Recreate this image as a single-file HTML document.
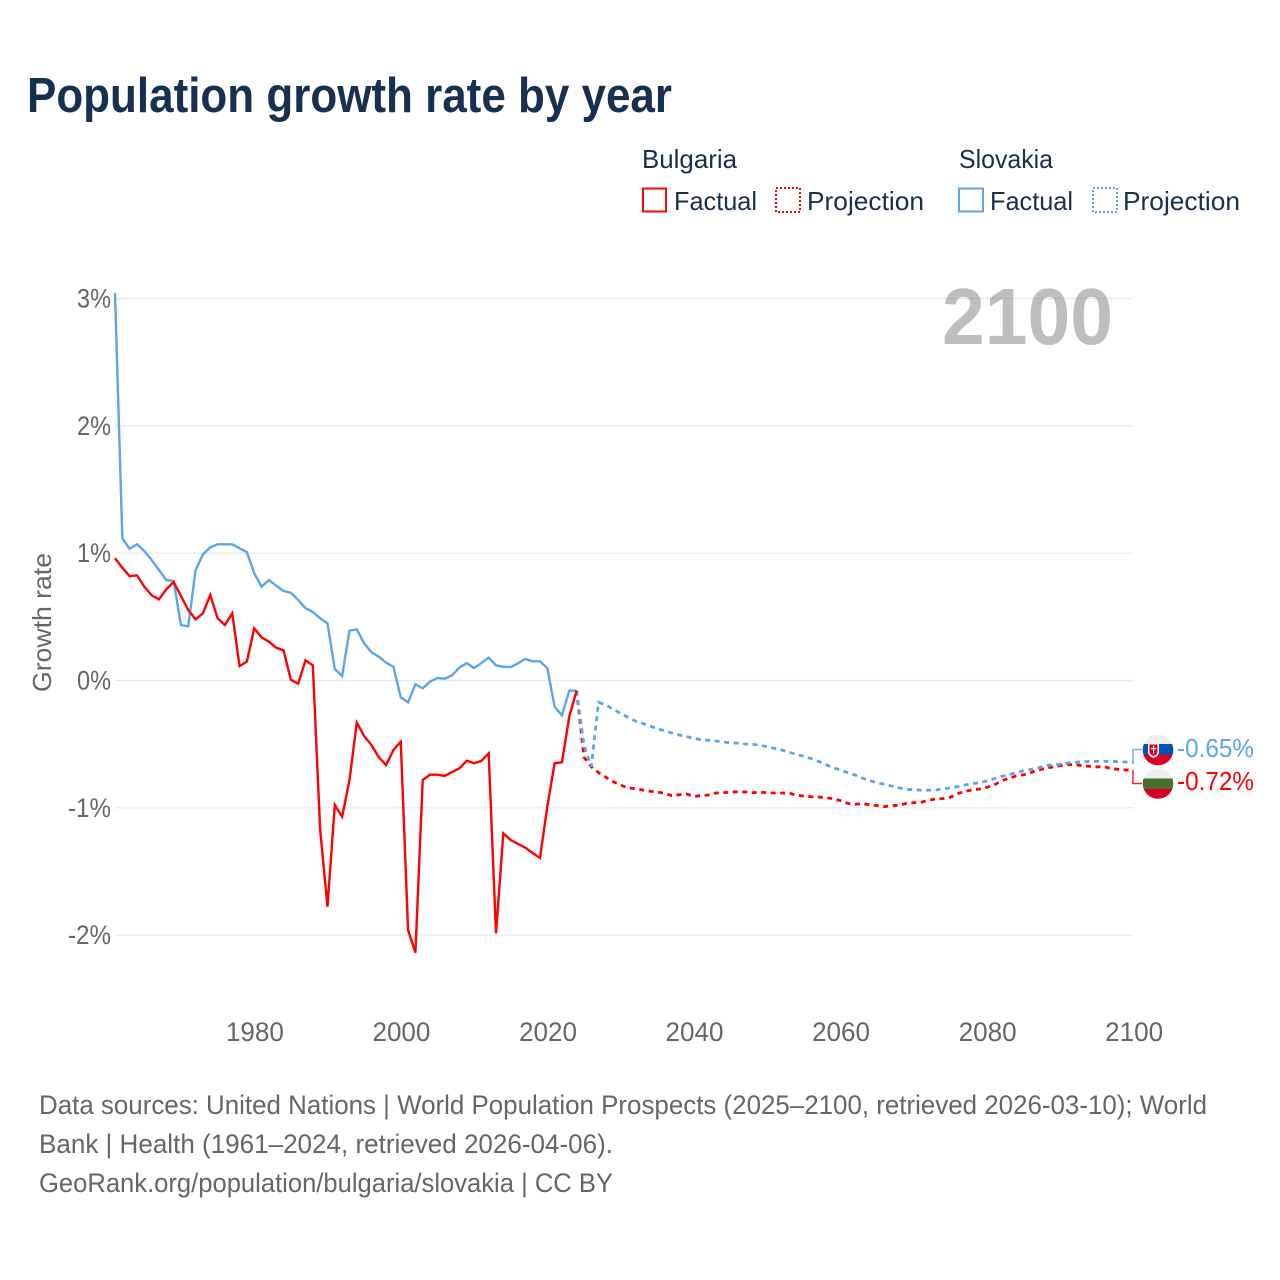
<!DOCTYPE html>
<html lang="en">
<head>
<meta charset="utf-8">
<title>Population growth rate by year</title>
<style>
html,body{margin:0;padding:0;background:#fff;}
svg{display:block;}
text{font-family:"Liberation Sans",sans-serif;}
</style>
</head>
<body>
<svg id="chart" xmlns="http://www.w3.org/2000/svg" width="1280" height="1280" viewBox="0 0 1280 1280">
  <rect x="0" y="0" width="1280" height="1280" fill="#fff"/>
  <text x="27" y="112" font-size="49" font-weight="700" fill="#17304f" textLength="645" lengthAdjust="spacingAndGlyphs">Population growth rate by year</text>

  <g font-size="26" fill="#17304f">
    <text x="642" y="168" textLength="95" lengthAdjust="spacingAndGlyphs">Bulgaria</text>
    <text x="959" y="168" textLength="94" lengthAdjust="spacingAndGlyphs">Slovakia</text>
    <g>
      <rect x="643" y="188.5" width="23" height="23" fill="none" stroke="#ff0000" stroke-width="2"/>
      <text x="674" y="210" textLength="83" lengthAdjust="spacingAndGlyphs">Factual</text>
    </g>
    <g>
      <rect x="776" y="188" width="24" height="24" fill="none" stroke="#ff0000" stroke-width="2" stroke-dasharray="2 2"/>
      <text x="807" y="210" textLength="117" lengthAdjust="spacingAndGlyphs">Projection</text>
    </g>
    <g>
      <rect x="959" y="188.5" width="24" height="23" fill="none" stroke="#5ba4ee" stroke-width="2"/>
      <text x="990" y="210" textLength="83" lengthAdjust="spacingAndGlyphs">Factual</text>
    </g>
    <g>
      <rect x="1093" y="188" width="24" height="24" fill="none" stroke="#5ba4ee" stroke-width="2" stroke-dasharray="2 2"/>
      <text x="1123" y="210" textLength="117" lengthAdjust="spacingAndGlyphs">Projection</text>
    </g>
  </g>

  <g id="grid"></g>
  <text x="942" y="344" font-size="80" font-weight="700" fill="#777" fill-opacity="0.48" textLength="171" lengthAdjust="spacingAndGlyphs">2100</text>
  <g id="yticks" font-size="26.5" fill="#666" text-anchor="end"></g>
  <g id="xticks" font-size="26.5" fill="#666" text-anchor="middle"></g>
  <text transform="translate(51,622.5) rotate(-90)" font-size="26" fill="#666" text-anchor="middle" textLength="139" lengthAdjust="spacingAndGlyphs">Growth rate</text>
  <g id="series"></g>

  <defs>
    <clipPath id="clip-sk"><circle cx="1158" cy="750" r="15.3"/></clipPath>
    <clipPath id="clip-bg"><circle cx="1158" cy="783.5" r="15.3"/></clipPath>
  </defs>
  <g clip-path="url(#clip-sk)">
    <rect x="1142" y="734" width="32" height="11" fill="#efefef"/>
    <rect x="1142" y="744" width="32" height="11" fill="#0052b4"/>
    <rect x="1142" y="754.5" width="32" height="12" fill="#d80027"/>
    <path d="M1148 743h11v9q0 4-5.500 6q-5.500-2-5.500-6z" fill="#efefef"/>
    <path d="M1149.500 744.500h8v7q0 3-4 4.500q-4-1.500-4-4.500z" fill="#d80027"/>
    <rect x="1153" y="745.500" width="1.200" height="8" fill="#fff"/>
    <rect x="1151" y="748" width="5.200" height="1.200" fill="#fff"/>
  </g>
  <g clip-path="url(#clip-bg)">
    <rect x="1142" y="768" width="32" height="11" fill="#efefef"/>
    <rect x="1142" y="778.500" width="32" height="11" fill="#496e2d"/>
    <rect x="1142" y="789" width="32" height="11" fill="#d80027"/>
  </g>
  <g id="end-labels"></g>

  <g font-size="26.500" fill="#666">
    <text x="39" y="1114" textLength="1168" lengthAdjust="spacingAndGlyphs">Data sources: United Nations | World Population Prospects (2025–2100, retrieved 2026-03-10); World</text>
    <text x="39" y="1153" textLength="574" lengthAdjust="spacingAndGlyphs">Bank | Health (1961–2024, retrieved 2026-04-06).</text>
    <text x="39" y="1192" textLength="574" lengthAdjust="spacingAndGlyphs">GeoRank.org/population/bulgaria/slovakia | CC BY</text>
  </g>
</svg>
<script>
var firstFactualYear = 1961;
var firstProjectionYear = 2024;
var yTickValues = [3, 2, 1, 0, -1, -2];
var yTickLabels = ['3%', '2%', '1%', '0%', '-1%', '-2%'];
var xTickYears = [1980, 2000, 2020, 2040, 2060, 2080, 2100];
var xTickLabels = ['1980', '2000', '2020', '2040', '2060', '2080', '2100'];
var bulgariaFactual = [0.960,0.886,0.819,0.826,0.737,0.669,0.638,0.716,0.774,0.664,0.554,0.481,0.528,0.672,0.489,0.436,0.528,0.114,0.148,0.410,0.339,0.305,0.258,0.237,0.006,-0.025,0.159,0.119,-1.174,-1.777,-0.978,-1.070,-0.782,-0.331,-0.436,-0.507,-0.603,-0.664,-0.546,-0.481,-1.960,-2.138,-0.782,-0.740,-0.740,-0.750,-0.719,-0.690,-0.630,-0.650,-0.632,-0.572,-1.986,-1.200,-1.253,-1.284,-1.313,-1.355,-1.394,-0.991,-0.650,-0.643,-0.284,-0.080];
var slovakiaFactual = [3.044,1.117,1.035,1.070,1.017,0.947,0.868,0.789,0.782,0.436,0.426,0.868,0.991,1.046,1.070,1.070,1.070,1.038,1.009,0.842,0.737,0.789,0.745,0.703,0.690,0.632,0.569,0.538,0.489,0.449,0.090,0.035,0.391,0.402,0.292,0.222,0.187,0.140,0.108,-0.132,-0.171,-0.030,-0.061,-0.009,0.020,0.014,0.041,0.101,0.137,0.098,0.137,0.179,0.119,0.108,0.106,0.135,0.169,0.151,0.151,0.098,-0.206,-0.273,-0.080,-0.080];
var bulgariaProjection = [-0.080,-0.603,-0.677,-0.724,-0.760,-0.795,-0.821,-0.844,-0.850,-0.860,-0.870,-0.876,-0.886,-0.905,-0.897,-0.892,-0.910,-0.905,-0.899,-0.884,-0.881,-0.878,-0.873,-0.876,-0.881,-0.878,-0.881,-0.884,-0.884,-0.884,-0.902,-0.907,-0.913,-0.915,-0.921,-0.928,-0.944,-0.965,-0.972,-0.968,-0.976,-0.983,-0.991,-0.983,-0.980,-0.965,-0.960,-0.957,-0.941,-0.931,-0.928,-0.917,-0.889,-0.870,-0.860,-0.852,-0.839,-0.821,-0.787,-0.768,-0.750,-0.740,-0.724,-0.703,-0.690,-0.679,-0.669,-0.661,-0.661,-0.669,-0.674,-0.679,-0.677,-0.693,-0.698,-0.703,-0.705];
var slovakiaProjection = [-0.080,-0.507,-0.677,-0.171,-0.192,-0.226,-0.258,-0.289,-0.318,-0.336,-0.357,-0.379,-0.394,-0.412,-0.428,-0.441,-0.454,-0.465,-0.470,-0.475,-0.483,-0.489,-0.493,-0.499,-0.501,-0.509,-0.520,-0.533,-0.546,-0.564,-0.580,-0.595,-0.614,-0.635,-0.660,-0.685,-0.703,-0.724,-0.742,-0.766,-0.787,-0.803,-0.815,-0.829,-0.844,-0.855,-0.858,-0.862,-0.862,-0.860,-0.852,-0.844,-0.834,-0.821,-0.811,-0.803,-0.789,-0.771,-0.753,-0.740,-0.724,-0.709,-0.698,-0.687,-0.669,-0.661,-0.658,-0.648,-0.643,-0.638,-0.635,-0.635,-0.635,-0.635,-0.638,-0.640,-0.645];
var endLabelBulgaria = '-0.72%';
var endLabelSlovakia = '-0.65%';

var NS = 'http://www.w3.org/2000/svg';
function xScale(year) { return 115 + (year - 1961) * 7.327; }
function yScale(value) { return 680.5 - value * 127.3; }
function pointsFor(startYear, values) {
  var out = [];
  for (var i = 0; i < values.length; i++) {
    out.push(xScale(startYear + i).toFixed(2) + ',' + yScale(values[i]).toFixed(2));
  }
  return out.join(' ');
}

var gridGroup = document.getElementById('grid');
var yTickGroup = document.getElementById('yticks');
yTickValues.forEach(function (v, i) {
  var line = document.createElementNS(NS, 'line');
  
  
  line.setAttribute('x1', xScale(1961));
  line.setAttribute('x2', xScale(2100));
  line.setAttribute('y1', yScale(v));
  line.setAttribute('y2', yScale(v));
  line.setAttribute('stroke', '#e8e8e8');
  line.setAttribute('stroke-width', '1.2');
  gridGroup.appendChild(line);
  var label = document.createElementNS(NS, 'text');
  
  
  label.setAttribute('x', 111);
  label.setAttribute('y', yScale(v) + 9);
  label.setAttribute('textLength', yTickLabels[i].length > 2 ? 43 : 34);
  label.setAttribute('lengthAdjust', 'spacingAndGlyphs');
  label.textContent = yTickLabels[i];
  yTickGroup.appendChild(label);
});

var xTickGroup = document.getElementById('xticks');
xTickYears.forEach(function (yr, i) {
  var label = document.createElementNS(NS, 'text');
  
  
  label.setAttribute('x', xScale(yr) + 0.7);
  label.setAttribute('y', 1041);
  label.setAttribute('textLength', 58);
  label.setAttribute('lengthAdjust', 'spacingAndGlyphs');
  label.textContent = xTickLabels[i];
  xTickGroup.appendChild(label);
});

var seriesGroup = document.getElementById('series');
var RED = '#ff0000';
var BLUE = '#5ba4ee';

var bgProjLine = document.createElementNS(NS, 'polyline');


bgProjLine.setAttribute('points', pointsFor(firstProjectionYear, bulgariaProjection));
bgProjLine.setAttribute('fill', 'none');
bgProjLine.setAttribute('stroke', RED);
bgProjLine.setAttribute('stroke-width', '2.8');
bgProjLine.setAttribute('stroke-dasharray', '5 4.5');
seriesGroup.appendChild(bgProjLine);

var skProjLine = document.createElementNS(NS, 'polyline');


skProjLine.setAttribute('points', pointsFor(firstProjectionYear, slovakiaProjection));
skProjLine.setAttribute('fill', 'none');
skProjLine.setAttribute('stroke', BLUE);
skProjLine.setAttribute('stroke-width', '2.8');
skProjLine.setAttribute('stroke-dasharray', '5 4.5');
seriesGroup.appendChild(skProjLine);

var skFactLine = document.createElementNS(NS, 'polyline');


skFactLine.setAttribute('points', pointsFor(firstFactualYear, slovakiaFactual));
skFactLine.setAttribute('fill', 'none');
skFactLine.setAttribute('stroke', BLUE);
skFactLine.setAttribute('stroke-width', '2.400');
seriesGroup.appendChild(skFactLine);

var bgFactLine = document.createElementNS(NS, 'polyline');


bgFactLine.setAttribute('points', pointsFor(firstFactualYear, bulgariaFactual));
bgFactLine.setAttribute('fill', 'none');
bgFactLine.setAttribute('stroke', RED);
bgFactLine.setAttribute('stroke-width', '2.400');
seriesGroup.appendChild(bgFactLine);

var endGroup = document.getElementById('end-labels');
var endX = xScale(2100) - 0.5;
var skEndY = yScale(slovakiaProjection[slovakiaProjection.length - 1]);
var bgEndY = yScale(bulgariaProjection[bulgariaProjection.length - 1]);

var skConnector = document.createElementNS(NS, 'polyline');


skConnector.setAttribute('points', endX + ',' + skEndY + ' ' + endX + ',749.5 1142,749.5');
skConnector.setAttribute('fill', 'none');
skConnector.setAttribute('stroke', BLUE);
skConnector.setAttribute('stroke-opacity', '0.85');
skConnector.setAttribute('stroke-width', '1.5');
endGroup.appendChild(skConnector);

var bgConnector = document.createElementNS(NS, 'polyline');


bgConnector.setAttribute('points', endX + ',' + bgEndY + ' ' + endX + ',783.5 1142,783.5');
bgConnector.setAttribute('fill', 'none');
bgConnector.setAttribute('stroke', RED);
bgConnector.setAttribute('stroke-opacity', '0.85');
bgConnector.setAttribute('stroke-width', '1.5');
endGroup.appendChild(bgConnector);

var skLabel = document.createElementNS(NS, 'text');


skLabel.setAttribute('x', 1177);
skLabel.setAttribute('y', 757);
skLabel.setAttribute('font-size', '26');
skLabel.setAttribute('fill', BLUE);
skLabel.setAttribute('textLength', 77);
skLabel.setAttribute('lengthAdjust', 'spacingAndGlyphs');
skLabel.textContent = endLabelSlovakia;
endGroup.appendChild(skLabel);

var bgLabel = document.createElementNS(NS, 'text');


bgLabel.setAttribute('x', 1177);
bgLabel.setAttribute('y', 790);
bgLabel.setAttribute('font-size', '26');
bgLabel.setAttribute('fill', RED);
bgLabel.setAttribute('textLength', 77);
bgLabel.setAttribute('lengthAdjust', 'spacingAndGlyphs');
bgLabel.textContent = endLabelBulgaria;
endGroup.appendChild(bgLabel);
</script>
</body>
</html>
